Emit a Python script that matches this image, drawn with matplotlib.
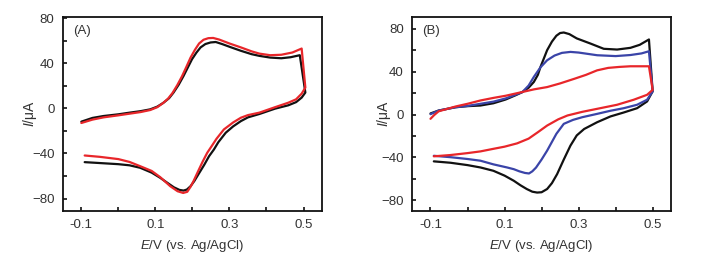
import numpy as np
import matplotlib.pyplot as plt
from matplotlib.ticker import MultipleLocator

plt.rcParams['font.family'] = ['Liberation Sans', 'DejaVu Sans']
plt.rcParams['mathtext.fontset'] = 'custom'
plt.rcParams['mathtext.it'] = 'Liberation Sans:italic'
plt.rcParams['mathtext.rm'] = 'Liberation Sans'

# --- data (E in V, I in uA) ---
# Panel A, black curve: forward (anodic) scan then reverse scan
a_black_E_fwd = [-0.1, -0.07, -0.04, 0.0, 0.031, 0.06, 0.086, 0.105, 0.122, 0.137,
                 0.149, 0.163, 0.176, 0.188, 0.199, 0.211, 0.222, 0.235, 0.249, 0.263,
                 0.28, 0.305, 0.331, 0.36, 0.381, 0.41, 0.44, 0.465, 0.49]
a_black_I_fwd = [-11.8, -8.5, -6.8, -5.3, -3.8, -2.5, -0.9, 1.5, 5.0, 9.0,
                 14.0, 21.0, 28.7, 36.5, 43.6, 49.5, 54.0, 57.0, 58.4, 58.8,
                 57.0, 54.0, 51.0, 48.0, 46.5, 45.0, 44.4, 45.3, 47.1]
a_black_E_rev = [0.505, 0.495, 0.48, 0.459, 0.423, 0.381, 0.35, 0.331, 0.31, 0.29,
                 0.27, 0.258, 0.245, 0.232, 0.218, 0.205, 0.195, 0.185, 0.176, 0.165,
                 0.15, 0.13, 0.113, 0.09, 0.059, 0.03, 0.0, -0.05, -0.091]
a_black_I_rev = [14.0, 9.5, 5.5, 2.7, -0.3, -5.0, -8.0, -11.3, -16.0, -21.6,
                 -30.0, -36.5, -42.4, -50.0, -57.5, -64.5, -69.0, -72.0, -72.9, -72.3,
                 -70.0, -65.5, -61.6, -57.0, -52.7, -50.5, -49.5, -48.5, -47.7]

# Panel A, red curve
a_red_E_fwd = [-0.1, -0.07, -0.04, 0.0, 0.031, 0.06, 0.086, 0.105, 0.12, 0.134,
               0.146, 0.159, 0.172, 0.184, 0.195, 0.207, 0.218, 0.23, 0.243, 0.256,
               0.272, 0.3, 0.331, 0.36, 0.381, 0.41, 0.44, 0.47, 0.495]
a_red_I_fwd = [-13.0, -10.0, -8.0, -6.2, -4.7, -3.3, -1.5, 1.0, 4.5, 8.5,
               13.5, 20.5, 28.5, 37.0, 45.0, 52.0, 57.5, 60.8, 62.2, 62.4,
               61.0, 57.5, 54.0, 50.5, 48.5, 47.1, 47.5, 49.5, 53.0]
a_red_E_rev = [0.505, 0.495, 0.48, 0.459, 0.423, 0.381, 0.35, 0.331, 0.31, 0.285,
               0.265, 0.252, 0.24, 0.228, 0.215, 0.203, 0.195, 0.186, 0.175, 0.16,
               0.14, 0.113, 0.09, 0.059, 0.03, 0.0, -0.05, -0.091]
a_red_I_rev = [18.4, 13.0, 8.0, 5.0, 1.0, -3.8, -6.0, -8.3, -12.5, -18.7,
               -27.0, -33.5, -39.4, -47.0, -56.0, -64.5, -69.5, -74.0, -75.0, -73.5,
               -69.0, -61.0, -55.5, -51.3, -47.5, -45.0, -43.0, -41.8]

# Panel B, black curve
b_black_E_fwd = [-0.1, -0.078, -0.032, 0.0, 0.035, 0.07, 0.103, 0.13, 0.148, 0.165,
                 0.179, 0.19, 0.197, 0.207, 0.215, 0.228, 0.24, 0.25, 0.26, 0.275,
                 0.295, 0.332, 0.368, 0.404, 0.44, 0.465, 0.49]
b_black_I_fwd = [1.0, 3.7, 6.8, 7.8, 8.4, 10.5, 14.0, 18.0, 20.9, 25.0,
                 30.3, 37.0, 44.3, 53.0, 60.0, 68.0, 73.5, 76.0, 76.5, 75.0,
                 71.0, 66.2, 61.3, 60.6, 62.2, 65.0, 70.0]
b_black_E_rev = [0.5, 0.485, 0.458, 0.422, 0.386, 0.35, 0.315, 0.295, 0.278, 0.26,
                 0.242, 0.228, 0.215, 0.2, 0.188, 0.175, 0.16, 0.143, 0.125, 0.1,
                 0.07, 0.035, 0.0, -0.046, -0.091]
b_black_I_rev = [21.6, 12.2, 5.9, 1.9, -1.8, -7.2, -13.5, -19.5, -29.0, -42.0,
                 -55.6, -64.0, -69.5, -72.5, -72.8, -72.0, -69.5, -66.0, -61.8, -57.0,
                 -52.5, -49.4, -47.2, -45.0, -43.7]

# Panel B, blue curve
b_blue_E_fwd = [-0.1, -0.078, -0.032, 0.0, 0.035, 0.07, 0.103, 0.13, 0.148, 0.165,
                0.179, 0.197, 0.215, 0.235, 0.255, 0.278, 0.3, 0.35, 0.4, 0.44,
                0.47, 0.49]
b_blue_I_fwd = [0.3, 3.7, 6.8, 8.0, 10.0, 12.0, 15.0, 18.5, 20.9, 27.0,
                35.0, 44.0, 50.6, 55.0, 57.5, 58.4, 57.8, 55.3, 54.5, 55.5,
                57.0, 59.0]
b_blue_E_rev = [0.5, 0.485, 0.458, 0.422, 0.386, 0.35, 0.31, 0.285, 0.26, 0.24,
                0.215, 0.2, 0.185, 0.175, 0.166, 0.155, 0.14, 0.125, 0.107, 0.07,
                0.035, 0.0, -0.046, -0.091]
b_blue_I_rev = [21.6, 13.8, 9.1, 5.9, 3.5, 0.6, -2.5, -5.0, -8.7, -18.0,
                -33.7, -42.0, -49.5, -53.0, -55.0, -54.5, -53.0, -51.0, -49.4, -46.5,
                -43.1, -41.5, -39.8, -38.5]

# Panel B, red curve
b_red_E_fwd = [-0.1, -0.09, -0.078, -0.032, 0.0, 0.035, 0.07, 0.103, 0.148, 0.18,
               0.215, 0.25, 0.29, 0.32, 0.35, 0.38, 0.41, 0.44, 0.47, 0.49]
b_red_I_fwd = [-4.0, -0.5, 3.0, 7.5, 10.0, 13.1, 15.5, 17.5, 21.0, 23.5,
               25.6, 29.0, 33.5, 37.0, 41.2, 43.5, 44.4, 45.0, 45.0, 45.0]
b_red_E_rev = [0.5, 0.485, 0.449, 0.404, 0.35, 0.31, 0.27, 0.245, 0.215, 0.19,
               0.165, 0.134, 0.1, 0.07, 0.035, 0.0, -0.046, -0.091]
b_red_I_rev = [23.0, 18.4, 13.8, 9.1, 5.3, 2.5, -0.9, -4.5, -10.3, -16.5,
               -22.5, -26.9, -30.0, -32.0, -34.4, -36.0, -37.8, -39.0]

x_ticks = [-0.1, 0.1, 0.3, 0.5]
x_tick_labels = ['-0.1', '0.1', '0.3', '0.5']
y_ticks = [-80, -40, 0, 40, 80]

BLACK = '#111111'
RED = '#e8262a'
BLUE = '#3a44a8'
TEXT = '#333333'

fig = plt.figure(figsize=(7.14, 2.57), dpi=100)
ax_a = fig.add_axes([0.088, 0.179, 0.363, 0.755])
ax_b = fig.add_axes([0.577, 0.179, 0.363, 0.755])


def cv(ax, E_fwd, I_fwd, E_rev, I_rev, color):
    ax.plot(E_fwd + E_rev, I_fwd + I_rev, color=color, lw=1.6,
            solid_joinstyle='round', solid_capstyle='round')


cv(ax_a, a_black_E_fwd, a_black_I_fwd, a_black_E_rev, a_black_I_rev, BLACK)
cv(ax_a, a_red_E_fwd, a_red_I_fwd, a_red_E_rev, a_red_I_rev, RED)

cv(ax_b, b_black_E_fwd, b_black_I_fwd, b_black_E_rev, b_black_I_rev, BLACK)
cv(ax_b, b_blue_E_fwd, b_blue_I_fwd, b_blue_E_rev, b_blue_I_rev, BLUE)
cv(ax_b, b_red_E_fwd, b_red_I_fwd, b_red_E_rev, b_red_I_rev, RED)

for ax, ylim, tag, lab_x in [(ax_a, (-91, 81), '(A)', -0.093),
                             (ax_b, (-90, 91), '(B)', -0.072)]:
    ax.set_xlim(-0.15, 0.55)
    ax.set_ylim(*ylim)
    ax.set_xticks(x_ticks)
    ax.set_xticklabels(x_tick_labels)
    ax.set_yticks(y_ticks)
    ax.xaxis.set_minor_locator(MultipleLocator(0.1))
    ax.yaxis.set_minor_locator(MultipleLocator(20))
    ax.tick_params(which='both', direction='in', length=3, width=1.2,
                   labelsize=9.5, colors=BLACK, labelcolor=TEXT, pad=6)
    for s in ax.spines.values():
        s.set_linewidth(1.3)
        s.set_color(BLACK)
    ax.set_xlabel(r'$\mathit{E}$/V (vs. Ag/AgCl)', fontsize=9.5, color=TEXT, labelpad=5)
    ax.set_ylabel(r'$\mathit{I}$/μA', fontsize=10, color=TEXT)
    ax.yaxis.set_label_coords(lab_x, 0.5)
    ax.text(0.04, 0.96, tag, transform=ax.transAxes, fontsize=9.5, color=TEXT,
            va='top', ha='left')

plt.savefig('out.png', dpi=100)
